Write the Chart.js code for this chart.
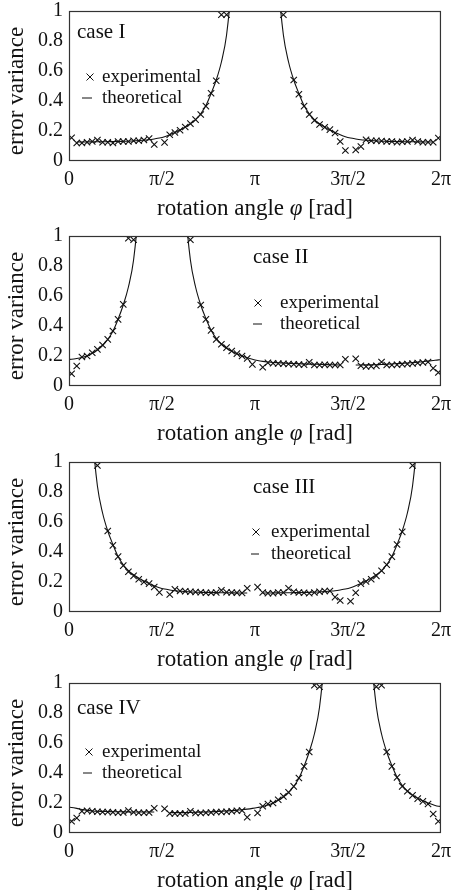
<!DOCTYPE html>
<html lang="en">
<head>
<meta charset="UTF-8">
<title>error variance vs rotation angle</title>
<script src="https://cdn.jsdelivr.net/npm/chart.js"></script>
<style>
  body { margin: 0; background: #fff; width: 458px; height: 890px; overflow: hidden; position: relative; }
  canvas { position: absolute; left: 0; }
</style>
</head>
<body>
<canvas id="c1" width="458" height="232" style="top:-9px"></canvas>
<canvas id="c2" width="458" height="232" style="top:216px"></canvas>
<canvas id="c3" width="458" height="232" style="top:442px"></canvas>
<canvas id="c4" width="458" height="232" style="top:663px"></canvas>
<script>
// measurement angles (degrees)
const expAnglesDeg = [2.5, 7.5, 12.5, 17.5, 22.5, 27.5, 32.5, 37.5, 42.5, 47.5, 52.5, 57.5,
    62.5, 67.5, 72.5, 77.5, 82.5, 87.5, 92.5, 97.5, 102.5, 107.5, 112.5, 117.5,
    122.5, 127.5, 132.5, 137.5, 142.5, 147.5, 152.5, 157.5, 162.5, 167.5, 172.5, 177.5,
    182.5, 187.5, 192.5, 197.5, 202.5, 207.5, 212.5, 217.5, 222.5, 227.5, 232.5, 237.5,
    242.5, 247.5, 252.5, 257.5, 262.5, 267.5, 272.5, 277.5, 282.5, 287.5, 292.5, 297.5,
    302.5, 307.5, 312.5, 317.5, 322.5, 327.5, 332.5, 337.5, 342.5, 347.5, 352.5, 357.5];
// theoretical curve uses the same angles plus both ends of the axis
const theoAnglesDeg = [0, ...expAnglesDeg, 360];

const xTickValues = [0, Math.PI / 2, Math.PI, 3 * Math.PI / 2, 2 * Math.PI];
const xTickLabels = ['0', 'π/2', 'π', '3π/2', '2π'];
const yTickLabels = ['0', '0.2', '0.4', '0.6', '0.8', '1'];
const caseNames = ['case I', 'case II', 'case III', 'case IV'];
const legendLabels = ['experimental', 'theoretical'];

// case I
const expI = [0.155, 0.12, 0.12, 0.125, 0.13, 0.14, 0.125, 0.125, 0.12, 0.13, 0.13, 0.13,
    0.135, 0.135, 0.14, 0.15, 0.11, null, 0.124, 0.175, 0.19, 0.205, 0.227, 0.249,
    0.276, 0.31, 0.366, 0.452, 0.535, 0.975, 0.975, null, null, null, null, null,
    null, null, null, null, null, 0.975, null, 0.54, 0.445, 0.366, 0.31, 0.27,
    0.243, 0.225, 0.209, 0.187, 0.13, 0.07, null, 0.074, 0.097, 0.142, 0.135, 0.135,
    0.133, 0.13, 0.13, 0.125, 0.128, 0.13, 0.14, 0.13, 0.125, 0.125, 0.125, 0.153];
const theoI = [null,
    null, 0.127, 0.127, 0.127, 0.128, 0.128, 0.128, 0.129, 0.129, 0.13, 0.131, 0.132,
    0.134, 0.136, 0.139, 0.142, 0.147, 0.153, 0.162, 0.175, 0.19, 0.206, 0.226, 0.248,
    0.276, 0.315, 0.37, 0.45, 0.54, 0.66, 0.84, 1.2, 1.8, 3, 6, 20,
    20, 6, 3, 1.8, 1.2, 0.84, 0.66, 0.54, 0.45, 0.37, 0.315, 0.276,
    0.248, 0.226, 0.206, 0.19, 0.175, 0.162, 0.153, 0.147, 0.142, 0.139, 0.136, 0.134,
    0.132, 0.131, 0.13, 0.129, 0.129, 0.128, 0.128, 0.128, 0.127, 0.127, 0.127, null,
    null];

// case II
const expII = [0.082, 0.133, 0.193, 0.2, 0.222, 0.244, 0.273, 0.311, 0.367, 0.444, 0.544, 0.985,
    0.975, null, null, null, null, null, null, null, null, null, null, 0.975,
    null, 0.54, 0.444, 0.371, 0.311, 0.278, 0.256, 0.233, 0.216, 0.2, 0.184, 0.144,
    null, 0.125, 0.155, 0.152, 0.15, 0.148, 0.147, 0.145, 0.143, 0.142, 0.158, 0.14,
    0.14, 0.142, 0.14, 0.14, 0.14, 0.178, null, 0.182, 0.135, 0.13, 0.132, 0.135,
    0.16, 0.14, 0.14, 0.142, 0.145, 0.147, 0.15, 0.153, 0.157, 0.16, 0.118, 0.09];
const theoII = [0.177,
    0.178, 0.183, 0.19, 0.2, 0.218, 0.24, 0.27, 0.31, 0.365, 0.445, 0.54, 0.66,
    0.84, 1.2, 1.8, 3, 6, 20, 20, 6, 3, 1.8, 1.2, 0.84,
    0.66, 0.54, 0.45, 0.372, 0.318, 0.28, 0.252, 0.232, 0.215, 0.2, 0.188, 0.178,
    0.17, 0.164, 0.16, 0.157, 0.155, 0.153, 0.151, 0.15, 0.148, 0.147, 0.146, 0.145,
    0.144, 0.143, 0.142, 0.141, 0.14, null, null, 0.14, 0.14, 0.141, 0.141, 0.142,
    0.143, 0.145, 0.147, 0.149, 0.151, 0.153, 0.156, 0.159, 0.162, 0.166, 0.17, 0.174,
    0.175];

// case III
const expIII = [null, null, null, null, null, 0.977, null, 0.54, 0.444, 0.369, 0.309, 0.268,
    0.241, 0.218, 0.2, 0.189, 0.167, 0.131, null, 0.117, 0.151, 0.14, 0.138, 0.135,
    0.133, 0.132, 0.128, 0.128, 0.13, 0.145, 0.132, 0.13, 0.128, 0.127, 0.158, null,
    0.166, 0.13, 0.125, 0.125, 0.13, 0.13, 0.158, 0.135, 0.13, 0.128, 0.125, 0.13,
    0.135, 0.14, 0.14, 0.099, 0.077, null, 0.072, 0.128, 0.189, 0.203, 0.218, 0.241,
    0.275, 0.315, 0.369, 0.45, 0.534, null, 0.977, null, null, null, null, null];
const theoIII = [40,
    20, 6, 3, 1.8, 1.2, 0.84, 0.66, 0.54, 0.45, 0.37, 0.315, 0.276,
    0.248, 0.226, 0.206, 0.19, 0.175, 0.162, 0.153, 0.147, 0.142, 0.139, 0.136, 0.134,
    0.132, 0.131, 0.13, 0.129, 0.129, 0.128, 0.128, 0.128, 0.127, 0.127, 0.127, null,
    null, 0.127, 0.127, 0.127, 0.128, 0.128, 0.128, 0.129, 0.129, 0.13, 0.131, 0.132,
    0.134, 0.136, 0.139, 0.142, 0.147, 0.153, 0.162, 0.175, 0.19, 0.206, 0.226, 0.248,
    0.276, 0.315, 0.37, 0.45, 0.54, 0.66, 0.84, 1.2, 1.8, 3, 6, 20,
    40];

// case IV
const expIV = [0.078, 0.1, 0.145, 0.148, 0.145, 0.142, 0.14, 0.14, 0.138, 0.135, 0.137, 0.149,
    0.138, 0.135, 0.135, 0.137, 0.165, null, 0.162, 0.13, 0.13, 0.13, 0.13, 0.145,
    0.133, 0.133, 0.135, 0.137, 0.14, 0.14, 0.142, 0.145, 0.148, 0.15, 0.105, null,
    0.133, 0.178, 0.193, 0.2, 0.222, 0.244, 0.271, 0.311, 0.367, 0.444, 0.54, 0.985,
    0.975, null, null, null, null, null, null, null, null, null, null, 0.975,
    0.985, 0.54, 0.444, 0.371, 0.311, 0.278, 0.251, 0.229, 0.211, 0.193, 0.127, 0.078];
const theoIV = [0.172,
    0.17, 0.164, 0.157, 0.151, 0.147, 0.145, 0.144, 0.143, 0.142, 0.142, 0.141, 0.141,
    0.14, 0.14, 0.14, 0.14, 0.14, null, null, 0.136, 0.136, 0.136, 0.136, 0.137,
    0.138, 0.139, 0.14, 0.141, 0.143, 0.145, 0.147, 0.149, 0.152, 0.155, 0.159, 0.164,
    0.17, 0.177, 0.187, 0.2, 0.218, 0.24, 0.27, 0.31, 0.365, 0.445, 0.54, 0.66,
    0.84, 1.2, 1.8, 3, 6, 20, 20, 6, 3, 1.8, 1.2, 0.84,
    0.66, 0.54, 0.45, 0.372, 0.318, 0.28, 0.252, 0.232, 0.215, 0.2, 0.188, 0.178,
    0.177];

const rad = d => d * Math.PI / 180;
const serif = '"Liberation Serif", "Times New Roman", serif';
const ink = '#111';

// box, case label, legend and axis titles
const decor = {
    id: 'decor',
    afterDraw(chart, args, o) {
        const { ctx, chartArea: a } = chart;
        ctx.save();
        ctx.strokeStyle = '#333';
        ctx.lineWidth = 1.2;
        ctx.strokeRect(a.left + 0.5, a.top + 0.5, a.right - a.left - 1, a.bottom - a.top - 1);

        ctx.fillStyle = ink;
        ctx.strokeStyle = ink;
        ctx.lineWidth = 1;
        ctx.textBaseline = 'middle';
        ctx.textAlign = 'left';
        ctx.font = '21px ' + serif;
        ctx.fillText(o.name, o.nameX, a.top + o.nameY);

        // legend
        ctx.font = '19px ' + serif;
        const my = a.top + o.row1;
        ctx.beginPath();
        ctx.moveTo(o.markX - 3.5, my - 3.5); ctx.lineTo(o.markX + 3.5, my + 3.5);
        ctx.moveTo(o.markX + 3.5, my - 3.5); ctx.lineTo(o.markX - 3.5, my + 3.5);
        ctx.stroke();
        ctx.fillText(legendLabels[0], o.textX, my);
        const ly = a.top + o.row2;
        ctx.beginPath();
        ctx.moveTo(o.dash[0], ly); ctx.lineTo(o.dash[1], ly);
        ctx.stroke();
        ctx.fillText(legendLabels[1], o.textX, ly);

        // y title
        ctx.save();
        ctx.translate(17, (a.top + a.bottom) / 2 + 5);
        ctx.rotate(-Math.PI / 2);
        ctx.textAlign = 'center';
        ctx.font = '23px ' + serif;
        ctx.fillText('error variance', 0, 0);
        ctx.restore();

        // x title, phi in italics
        const parts = [['rotation angle ', ''], ['φ', 'italic '], [' [rad]', '']];
        let total = 0;
        parts.forEach(p => { ctx.font = p[1] + '23px ' + serif; total += ctx.measureText(p[0]).width; });
        let x = (a.left + a.right) / 2 - total / 2;
        const ty = a.bottom + 48;
        parts.forEach(p => {
            ctx.font = p[1] + '23px ' + serif;
            ctx.fillText(p[0], x, ty);
            x += ctx.measureText(p[0]).width;
        });
        ctx.restore();
    }
};

function makeChart(id, exp, theo, deco) {
    new Chart(document.getElementById(id), {
        type: 'scatter',
        data: {
            datasets: [{
                data: exp.map((v, i) => ({ x: rad(expAnglesDeg[i]), y: v })),
                showLine: false,
                pointStyle: 'crossRot',
                pointRadius: 4.5,
                borderColor: ink,
                borderWidth: 1.1
            }, {
                data: theo.map((v, i) => ({ x: rad(theoAnglesDeg[i]), y: v })),
                showLine: true,
                pointRadius: 0,
                borderColor: ink,
                borderWidth: 1.1,
                cubicInterpolationMode: 'monotone',
                spanGaps: false
            }]
        },
        options: {
            responsive: false,
            animation: false,
            events: [],
            layout: { padding: { top: 20, right: 17, left: 0, bottom: 0 } },
            plugins: { legend: { display: false }, tooltip: { enabled: false }, decor: deco },
            scales: {
                x: {
                    type: 'linear', min: 0, max: 2 * Math.PI,
                    grid: { display: false, drawTicks: false }, border: { display: false },
                    afterBuildTicks: s => { s.ticks = xTickValues.map(v => ({ value: v })); },
                    afterFit: s => { s.height = 62; },
                    ticks: {
                        callback: (v, i) => xTickLabels[i],
                        font: { family: serif, size: 20 }, color: ink,
                        padding: 7, maxRotation: 0, autoSkip: false
                    }
                },
                y: {
                    min: 0, max: 1,
                    grid: { display: false, drawTicks: false }, border: { display: false },
                    afterFit: s => { s.width = 69; },
                    ticks: {
                        stepSize: 0.2,
                        callback: (v, i) => yTickLabels[i],
                        font: { family: serif, size: 20 }, color: ink, padding: 6
                    }
                }
            }
        },
        plugins: [decor]
    });
}

makeChart('c1', expI, theoI, { name: caseNames[0], nameX: 77, nameY: 21, markX: 90, textX: 102, row1: 66, row2: 87, dash: [82, 92] });
makeChart('c2', expII, theoII, { name: caseNames[1], nameX: 253, nameY: 21, markX: 258, textX: 280, row1: 67, row2: 88, dash: [253, 262] });
makeChart('c3', expIII, theoIII, { name: caseNames[2], nameX: 253, nameY: 25, markX: 256, textX: 271, row1: 70, row2: 92, dash: [251, 259] });
makeChart('c4', expIV, theoIV, { name: caseNames[3], nameX: 77, nameY: 25, markX: 89, textX: 102, row1: 69, row2: 90, dash: [83, 92] });
</script>
</body>
</html>
